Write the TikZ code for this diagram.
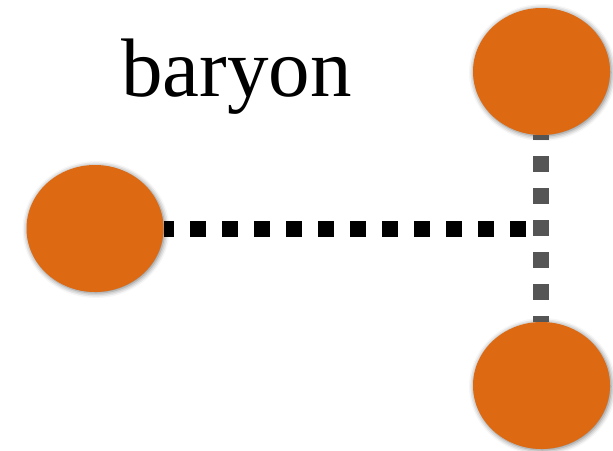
\documentclass[tikz,border=0pt]{standalone}
\usepackage{fontspec}
\setmainfont{Liberation Serif}
\usetikzlibrary{shapes.geometric,shadows.blur}
\definecolor{quarkorange}{HTML}{DD6A12}
\definecolor{linegray}{HTML}{555555}
\tikzset{
  quark/.style={ellipse, fill=quarkorange, draw=none, minimum width=137pt, minimum height=127pt, inner sep=0pt,
    blur shadow={shadow xshift=1pt, shadow yshift=-1pt, shadow blur radius=5pt, shadow opacity=55}},
  blackbond/.style={line width=16pt, black, dash pattern=on 16pt off 16pt, line cap=butt},
  graybond/.style={line width=16pt, linegray, dash pattern=on 16pt off 16pt, line cap=butt},
  label/.style={font=\fontsize{83}{83}\selectfont, inner sep=0pt, anchor=base}
}
\begin{document}
\begin{tikzpicture}[x=1pt,y=1pt]
\useasboundingbox (0,0) rectangle (613,-450);
\node[quark] (q1) at (95,-228.5) {};
\node[quark] (q2) at (541.5,-71.5) {};
\node[quark] (q3) at (541.5,-385.5) {};
\coordinate (j) at (526,-228.5);
\draw[graybond, dash phase=11pt] ([xshift=-0.5pt]q2.south) -- ([xshift=-0.5pt]q3.north);
\draw[blackbond, dash phase=5.5pt] (q1.east) -- (j);
\node[label] (t) at (236.5,-96) {baryon};
\end{tikzpicture}
\end{document}
